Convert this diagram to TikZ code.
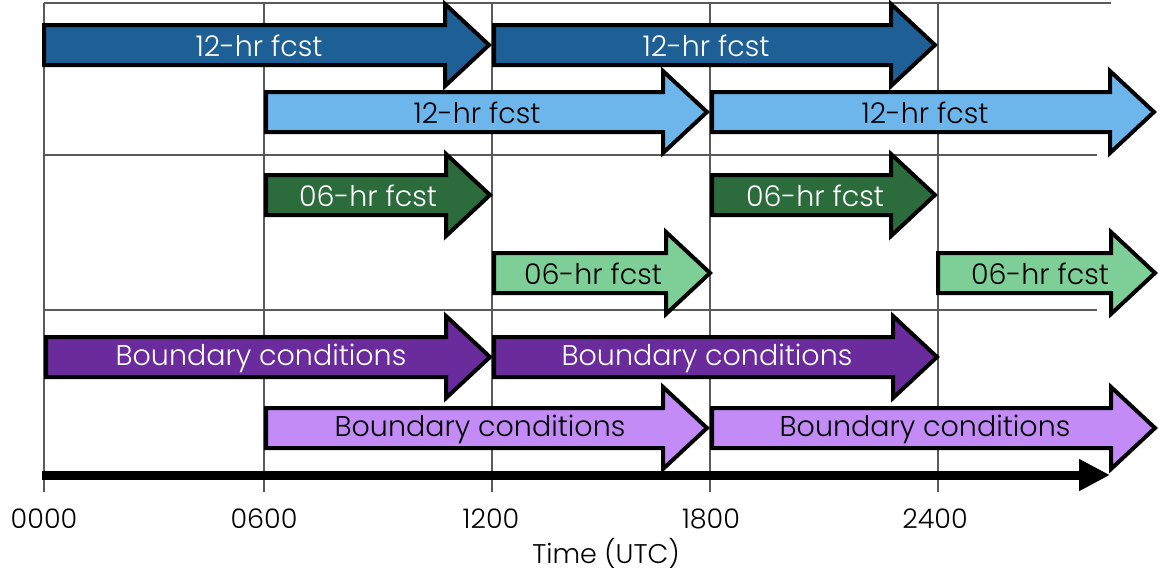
\documentclass[tikz,border=0pt]{standalone}
\usepackage{fontspec}
\setmainfont{Poppins}[UprightFont={* Light}]
\usetikzlibrary{arrows.meta}

\definecolor{fcDarkBlue}{HTML}{1E5F96}
\definecolor{fcLightBlue}{HTML}{6DB6EC}
\definecolor{fcDarkGreen}{HTML}{2C6B3C}
\definecolor{fcLightGreen}{HTML}{7DCF97}
\definecolor{fcDarkPurple}{HTML}{6A2C9C}
\definecolor{fcLightPurple}{HTML}{C38BF5}
\definecolor{fcGrid}{HTML}{5A5A5A}

% block arrow: #1 left x, #2 tip x, #3 centre y, #4 fill colour
\newcommand\fcblock[4]{%
  \draw[blockarrow, fill=#4]
    (#1,#3-20) -- (#2-44,#3-20) -- (#2-44,#3-41) -- (#2,#3)
    -- (#2-44,#3+41) -- (#2-44,#3+20) -- (#1,#3+20) -- cycle;}

\begin{document}
\begin{tikzpicture}[x=1pt,y=-1pt,
  gridline/.style={draw=fcGrid, line width=1.1pt},
  blockarrow/.style={draw=black, line width=4pt, line join=miter},
  darklabel/.style={text=white, font=\fontsize{28.5}{28.5}\selectfont, inner sep=0pt},
  lightlabel/.style={text=black, font=\fontsize{28.5}{28.5}\selectfont, inner sep=0pt},
  ticklabel/.style={text=black, font=\fontsize{27}{27}\selectfont, inner sep=0pt},
  timeaxis/.style={line width=9pt, -{Triangle[length=31pt,width=30pt]}}]
\useasboundingbox (0,0) rectangle (1161,574);

% background grid
\foreach \gx in {44,264,492,710,938}
  \draw[gridline] (\gx,3) -- (\gx,492);
\draw[gridline] (44,3) -- (1111,3);
\draw[gridline] (44,155) -- (1097,155);
\draw[gridline] (44,310) -- (1097,310);

% 12-hr forecasts
\fcblock{44}{489}{45}{fcDarkBlue}
\fcblock{494}{935}{45}{fcDarkBlue}
\fcblock{266}{707}{112}{fcLightBlue}
\fcblock{712}{1154}{112}{fcLightBlue}
\node[darklabel]  (fa) at (259,46)  {12-hr fcst};
\node[darklabel]  (fb) at (706,46)  {12-hr fcst};
\node[lightlabel] (fc) at (477,113) {12-hr fcst};
\node[lightlabel] (fd) at (925,113) {12-hr fcst};

% 06-hr forecasts
\fcblock{266}{490}{195}{fcDarkGreen}
\fcblock{712}{935}{195}{fcDarkGreen}
\fcblock{494}{710}{273}{fcLightGreen}
\fcblock{938}{1155}{273}{fcLightGreen}
\node[darklabel]  (sa) at (368,196)  {06-hr fcst};
\node[darklabel]  (sb) at (815,196)  {06-hr fcst};
\node[lightlabel] (sc) at (593,274)  {06-hr fcst};
\node[lightlabel] (sd) at (1040,274) {06-hr fcst};

% boundary conditions
\fcblock{46}{490}{357}{fcDarkPurple}
\fcblock{494}{937}{357}{fcDarkPurple}
\fcblock{266}{707}{428}{fcLightPurple}
\fcblock{712}{1155}{428}{fcLightPurple}
\node[darklabel]  (ba) at (261,358) {Boundary conditions};
\node[darklabel]  (bb) at (707,358) {Boundary conditions};
\node[lightlabel] (bc) at (480,429) {Boundary conditions};
\node[lightlabel] (bd) at (925,429) {Boundary conditions};

% time axis
\coordinate (axL) at (42,475);
\coordinate (axR) at (1110,475);
\draw[timeaxis] (axL) -- (axR);

\node[ticklabel] (t00) at (44,519)  {0000};
\node[ticklabel] (t06) at (264,519) {0600};
\node[ticklabel] (t12) at (491,519) {1200};
\node[ticklabel] (t18) at (711,519) {1800};
\node[ticklabel] (t24) at (935,519) {2400};
\node[ticklabel] (tx)  at (606,553) {Time (UTC)};
\end{tikzpicture}
\end{document}
